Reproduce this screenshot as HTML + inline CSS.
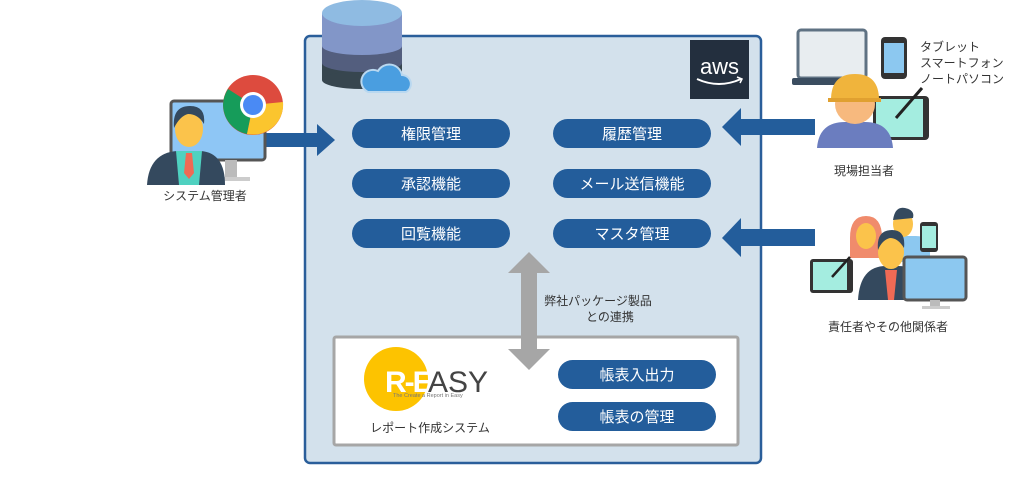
<!DOCTYPE html>
<html><head><meta charset="utf-8"><style>
body{margin:0;background:#fff;width:1026px;height:500px;overflow:hidden;font-family:"Liberation Sans","Noto Sans CJK JP",sans-serif;}
svg{display:block}
</style></head><body>
<svg width="1026" height="500" viewBox="0 0 1026 500" xmlns="http://www.w3.org/2000/svg" font-family="Liberation Sans, Noto Sans CJK JP, sans-serif">
<rect x="305" y="36" width="456" height="427" rx="5" fill="#d3e1ec" stroke="#2a5e9a" stroke-width="2.5"/>
<!-- database -->
<rect x="322" y="13" width="80" height="67" fill="#37464f"/>
<ellipse cx="362" cy="80" rx="40" ry="9" fill="#37464f"/>
<rect x="322" y="13" width="80" height="50" fill="#535e7e"/>
<ellipse cx="362" cy="63" rx="40" ry="9" fill="#535e7e"/>
<rect x="322" y="13" width="80" height="33" fill="#8296c8"/>
<ellipse cx="362" cy="46" rx="40" ry="9" fill="#8296c8"/>
<ellipse cx="362" cy="13" rx="40" ry="13" fill="#8fbbe2"/>
<g fill="#4a9ee0" stroke="#b9d8f0" stroke-width="2">
<path d="M368 92 h38 a9 9 0 0 0 -4 -17 a13 13 0 0 0 -24 -4 a9 9 0 0 0 -10 21 z"/>
</g>
<rect x="690" y="40" width="59" height="59" fill="#232f3e"/>
<text x="719.5" y="74" font-size="22" fill="#fff" text-anchor="middle" font-family="Liberation Sans, sans-serif">aws</text>
<path d="M697 79 q22 10 44 0" stroke="#fff" stroke-width="2" fill="none"/>
<path d="M737 77 l5 2 l-2 4" stroke="#fff" stroke-width="1.5" fill="none"/>
<g fill="#235d9b">
<rect x="352" y="119" width="158" height="29" rx="14.5"/>
<rect x="352" y="169" width="158" height="29" rx="14.5"/>
<rect x="352" y="219" width="158" height="29" rx="14.5"/>
<rect x="553" y="119" width="158" height="29" rx="14.5"/>
<rect x="553" y="169" width="158" height="29" rx="14.5"/>
<rect x="553" y="219" width="158" height="29" rx="14.5"/>
</g>
<g fill="#fff" font-size="15" text-anchor="middle">
<text x="431" y="139">権限管理</text>
<text x="431" y="189">承認機能</text>
<text x="431" y="239">回覧機能</text>
<text x="632" y="139">履歴管理</text>
<text x="632" y="189">メール送信機能</text>
<text x="632" y="239">マスタ管理</text>
</g>
<rect x="334" y="337" width="404" height="108" fill="#fff" stroke="#a6a6a6" stroke-width="3" rx="2"/>
<polygon points="529,252 550,273 537,273 537,349 550,349 529,370 508,349 521,349 521,273 508,273" fill="#a6a6a6"/>
<text x="598" y="305" font-size="12" fill="#333" text-anchor="middle">弊社パッケージ製品</text>
<text x="610" y="321" font-size="12" fill="#333" text-anchor="middle">との連携</text>
<circle cx="396" cy="379" r="32" fill="#fdc300"/>
<text x="385" y="392" font-size="30" fill="#fff" font-weight="bold" letter-spacing="-2">R-E</text>
<text x="428" y="392" font-size="30" fill="#444">ASY</text>
<text x="393" y="397" font-size="5.5" fill="#777">The Create a Report in Easy</text>
<text x="430" y="432" font-size="12" fill="#333" text-anchor="middle">レポート作成システム</text>
<g fill="#235d9b">
<rect x="558" y="360" width="158" height="29" rx="14.5"/>
<rect x="558" y="402" width="158" height="29" rx="14.5"/>
</g>
<g fill="#fff" font-size="15" text-anchor="middle">
<text x="637" y="380">帳表入出力</text>
<text x="637" y="422">帳表の管理</text>
</g>
<polygon points="265,133 317,133 317,124 335,140 317,156 317,147 265,147" fill="#235d9b"/>
<polygon points="815,119 741,119 741,108 722,127 741,146 741,135 815,135" fill="#235d9b"/>
<polygon points="815,229 741,229 741,218 722,238 741,257 741,246 815,246" fill="#235d9b"/>
<rect x="171" y="101" width="94" height="59" rx="3" fill="#8ec6f5" stroke="#555" stroke-width="3"/>
<rect x="225" y="160" width="12" height="18" fill="#bbb"/>
<rect x="212" y="177" width="38" height="4" fill="#ccc"/>
<path d="M147 185 q2 -32 30 -34 h24 q24 2 24 34 z" fill="#34495e"/>
<path d="M176 151 h26 l-3 34 h-20 z" fill="#4fd1c0"/>
<path d="M186 153 h6 l2 20 l-5 6 l-5 -6 z" fill="#f06a55"/>
<ellipse cx="189" cy="129" rx="14" ry="18" fill="#fbc34b"/>
<path d="M174 128 q-2 -22 16 -22 q16 0 14 18 q-6 -10 -16 -10 q-8 2 -14 14z" fill="#34495e"/>
<text x="205" y="200" font-size="12" fill="#333" text-anchor="middle">システム管理者</text>
<circle cx="253" cy="105" r="30" fill="#dd4b3e"/>
<path d="M253 105 L223 105 A30 30 0 0 0 247 134 Z" fill="#169c5a"/>
<path d="M253 105 L283 102 A30 30 0 0 1 247 134 Z" fill="#fbc52e"/>
<path d="M253 105 L223 105 A30 30 0 0 1 228 89 Z" fill="#169c5a"/>
<circle cx="253" cy="105" r="13" fill="#fff"/>
<circle cx="253" cy="105" r="10" fill="#4a8af4"/>
<rect x="798" y="30" width="68" height="48" rx="3" fill="#e8edf0" stroke="#5f7283" stroke-width="3"/>
<rect x="792" y="78" width="78" height="7" rx="2" fill="#3b4d60"/>
<rect x="881" y="37" width="26" height="42" rx="4" fill="#333"/>
<rect x="884" y="43" width="20" height="30" fill="#8cc8f0"/>
<rect x="873" y="96" width="56" height="44" rx="4" fill="#333"/>
<rect x="876" y="99" width="47" height="38" fill="#a4ede0"/>
<line x1="896" y1="118" x2="922" y2="88" stroke="#222" stroke-width="3"/>
<path d="M817 148 q2 -26 28 -26 h20 q26 0 28 26 z" fill="#6b7dbf"/>
<ellipse cx="855" cy="104" rx="20" ry="20" fill="#f7b97e"/>
<path d="M831 100 q0 -26 24 -26 q24 0 24 26 z" fill="#f0b43c"/>
<rect x="828" y="98" width="53" height="4" fill="#e0a030"/>
<g font-size="12" fill="#333">
<text x="920" y="51">タブレット</text>
<text x="920" y="67">スマートフォン</text>
<text x="920" y="83">ノートパソコン</text>
</g>
<text x="864" y="175" font-size="12" fill="#333" text-anchor="middle">現場担当者</text>
<path d="M850 238 q0 -22 16 -22 q16 0 16 22 v20 h-32z" fill="#f08b6c"/>
<ellipse cx="866" cy="236" rx="10" ry="13" fill="#fbc34b"/>
<path d="M888 252 q0 -16 16 -16 h12 q14 0 14 16 v10 h-42z" fill="#8cc8f0"/>
<ellipse cx="903" cy="224" rx="10" ry="13" fill="#fbc34b"/>
<path d="M893 220 q2 -14 12 -12 q10 2 8 10z" fill="#34495e"/>
<rect x="920" y="222" width="18" height="30" rx="3" fill="#333"/>
<rect x="922" y="226" width="14" height="22" fill="#a4ede0"/>
<path d="M858 300 q2 -34 28 -34 h12 q28 0 28 34 z" fill="#34495e"/>
<path d="M885 270 h12 l-3 30 h-6z" fill="#f06a55"/>
<ellipse cx="891" cy="252" rx="13" ry="17" fill="#fbc34b"/>
<path d="M878 250 q-2 -20 14 -20 q14 0 12 18 q-6 -10 -14 -10 q-8 2 -12 12z" fill="#34495e"/>
<rect x="810" y="259" width="43" height="34" rx="3" fill="#333"/>
<rect x="813" y="262" width="34" height="28" fill="#a4ede0"/>
<line x1="832" y1="277" x2="850" y2="257" stroke="#222" stroke-width="2.5"/>
<rect x="904" y="257" width="62" height="43" rx="3" fill="#8cc8f0" stroke="#555" stroke-width="3"/>
<rect x="930" y="300" width="10" height="8" fill="#bbb"/>
<rect x="922" y="306" width="28" height="3" fill="#ccc"/>
<text x="888" y="331" font-size="12" fill="#333" text-anchor="middle">責任者やその他関係者</text>
</svg>
</body></html>
